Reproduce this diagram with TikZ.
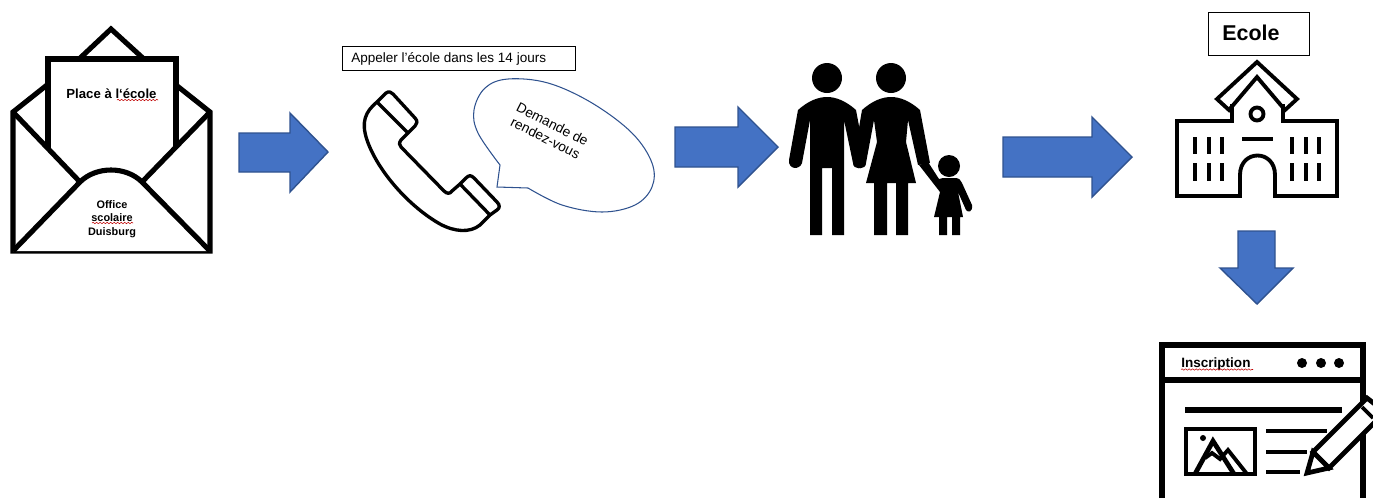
\documentclass[tikz,border=0pt]{standalone}
\usepackage{fontspec}
\setmainfont{Liberation Sans}
\usepackage{xcolor}
\usetikzlibrary{decorations.pathmorphing}
\definecolor{flowBlue}{HTML}{4472C4}
\definecolor{flowEdge}{HTML}{2F528F}
\tikzset{
  x=0.02cm, y=-0.02cm,
  flowarrow/.style={draw=flowEdge, fill=flowBlue, line width=0.8pt},
  icon/.style={draw=black, line width=2.9pt, line join=miter},
  iconthin/.style={draw=black, line width=1.9pt, line join=round, line cap=round},
  iconbar/.style={draw=black, line width=2.2pt},
  formbar/.style={draw=black, line width=2.7pt, line join=miter},
  figure/.style={fill=black, draw=none},
  labelbox/.style={draw=black, line width=0.5pt, fill=white},
  spell/.style={draw=red!75!black, line width=0.3pt, decorate, decoration={snake, amplitude=0.4pt, segment length=2pt}},
  plain/.style={inner sep=0pt, align=center, font=\fontsize{7.7}{8.6}\selectfont},
}
\begin{document}
\begin{tikzpicture}
\clip[use as bounding box] (0,0) rectangle (1373,498);

% arrows
\draw[flowarrow] (239,133) -- (290,133) -- (290,113) -- (328,152) -- (290,192) -- (290,172) -- (239,172) -- cycle;
\draw[flowarrow] (675,127) -- (738,127) -- (738,107) -- (778,147) -- (738,187) -- (738,167) -- (675,167) -- cycle;
\draw[flowarrow] (1003,137) -- (1092,137) -- (1092,117) -- (1132,157) -- (1092,197) -- (1092,177) -- (1003,177) -- cycle;
\draw[flowarrow] (1238,231) -- (1275,231) -- (1275,268) -- (1293,268) -- (1257,304) -- (1220,268) -- (1238,268) -- cycle;

% envelope
\draw[icon] (78,60) -- (111,29) -- (145,60);
\draw[icon] (47,85) -- (13,112) -- (13,251) -- (210,251) -- (210,112) -- (176,85);
\draw[icon] (48,148) -- (48,59) -- (176,59) -- (176,148);
\draw[icon] (13,112) -- (80,182);
\draw[icon] (210,112) -- (142,182);
\draw[icon, fill=white] (13,251) -- (80,182) .. controls (96,166) and (126,166) .. (142,182) -- (210,251);
\node[plain, font=\fontsize{7.5}{9}\selectfont\bfseries] (place) at (111.5,94) {Place à l‘école};
\node[plain, font=\fontsize{6.2}{7.7}\selectfont\bfseries] (office) at (112,219) {Office\\scolaire\\Duisburg};
\draw[spell] (117,100) -- (158,100);
\draw[spell] (92,223) -- (133,223);

% phone
\draw[labelbox] (342.5,46) rectangle (575.5,70.5);
\node[plain, anchor=west] (call) at (351,58.5) {Appeler l’école dans les 14 jours};
\draw[iconthin] (377,102) -- (386,93) .. controls (389,91) and (391,92) .. (393,94) -- (415,118) .. controls (418,121) and (417,124) .. (415,126)
  -- (408,133) -- (401,140) .. controls (399,143) and (399,145) .. (401,147) -- (444,191) .. controls (447,194) and (450,194) .. (452,191)
  -- (460,184) -- (466,178) .. controls (469,175) and (471,175) .. (474,178) -- (497,202) .. controls (500,205) and (500,208) .. (497,210)
  -- (490,215) -- (480,225) .. controls (470,233) and (455,232) .. (440,224) .. controls (410,207) and (378,172) .. (367,140)
  .. controls (361,122) and (365,112) .. (377,102) -- cycle;
\draw[iconthin] (377,102) -- (408,133);
\draw[iconthin] (460,184) -- (490,215);
\draw[draw=flowEdge, fill=white, line width=0.6pt] plot[smooth, tension=0.6] coordinates {(500,165) (478,133) (474,110) (485,88) (508,79) (548,83) (592,103) (632,133) (652,163) (652,187) (635,205) (602,212) (562,205) (528,188)} -- (497,187) -- cycle;
\node[plain, rotate=-27, font=\fontsize{7.8}{8.8}\selectfont] (ask) at (549,131) {Demande de\\rendez-vous};

% family
\fill[figure] (827,78) circle (15);
\fill[figure] (891,78) circle (15);
\fill[figure] (949,166) circle (11);
\fill[figure] (798,110) .. controls (808,101) and (818,97) .. (827,97) .. controls (836,97) and (846,101) .. (856,110)
  -- (866,163) .. controls (866,170) and (855,170) .. (853,163) -- (844,120) -- (844,235) -- (832,235) -- (832,168) -- (822,168) -- (822,235) -- (810,235) -- (810,120)
  -- (802,163) .. controls (800,170) and (788,170) .. (789,160) -- cycle;
\fill[figure] (862,110) .. controls (872,101) and (882,97) .. (891,97) .. controls (900,97) and (910,101) .. (920,110)
  -- (930,163) -- (918,165) -- (908,120) -- (906,142) -- (916,183) -- (908,183) -- (908,235) -- (896,235) -- (896,183) -- (887,183) -- (887,235) -- (874,235) -- (874,183) -- (866,183) -- (877,142) -- (874,120)
  -- (866,163) .. controls (864,170) and (853,170) .. (853,163) -- cycle;
\fill[figure] (919,165) -- (928,162) -- (939,179) -- (943,178) -- (955,178) .. controls (959,178) and (961,180) .. (962,183) -- (972,205) .. controls (973,212) and (968,213) .. (966,210)
  -- (958,192) -- (963,217) -- (960,217) -- (960,235) -- (952,235) -- (952,217) -- (947,217) -- (947,235) -- (939,235) -- (939,217) -- (934,217) -- (940,192) -- cycle;

% school
\draw[labelbox] (1208,12.5) rectangle (1309,55);
\node[plain, anchor=west, font=\fontsize{12.2}{14}\selectfont\bfseries] (school) at (1222,33) {Ecole};
\draw[iconbar, line join=miter] (1217,99) -- (1257,62) -- (1297,99) -- (1285,110) -- (1257,77) -- (1229,110) -- cycle;
\draw[iconbar] (1232,104) -- (1232,121) -- (1177,121) -- (1177,196) -- (1240,196) -- (1240,175) .. controls (1240,149) and (1275,149) .. (1275,175) -- (1275,196) -- (1337,196) -- (1337,121) -- (1283,121) -- (1283,104);
\draw[iconbar] (1257,114) circle (6.5);
\draw[iconbar] (1242,139) -- (1273,139);
\foreach \winx in {1195,1209,1222,1292,1306,1319} {
  \draw[iconbar] (\winx,137) -- (\winx,154);
  \draw[iconbar] (\winx,163) -- (\winx,181);
}

% form
\draw[icon] (1162,498) -- (1162,345) -- (1363,345) -- (1363,498);
\draw[icon] (1162,380) -- (1363,380);
\fill[figure] (1302,363) circle (5) (1321,363) circle (5) (1339,363) circle (5);
\node[plain, anchor=west, font=\fontsize{7.7}{9}\selectfont\bfseries] (signup) at (1181,364) {Inscription};
\draw[spell] (1181,369.5) -- (1253,369.5);
\draw[icon] (1185,410) -- (1342,410);
\draw[formbar] (1186,429) rectangle (1255,474);
\fill[figure] (1203,438) circle (3);
\draw[formbar] (1195,474) -- (1213,441) -- (1234,474);
\draw[iconbar, line join=miter] (1205,458) -- (1212,453) -- (1220,459) -- (1228,450) -- (1247,474);
\draw[formbar] (1266,431) -- (1327,431);
\draw[formbar] (1266,452) -- (1307,452);
\draw[formbar] (1266,472) -- (1300,472);
\draw[formbar, fill=white] (1329,468) -- (1385,412) -- (1367,398) -- (1313,452) -- cycle;
\draw[formbar, fill=white] (1307,473) -- (1313,452) -- (1329,468) -- cycle;
\draw[iconbar] (1362,407) -- (1373,418);
\end{tikzpicture}
\end{document}
